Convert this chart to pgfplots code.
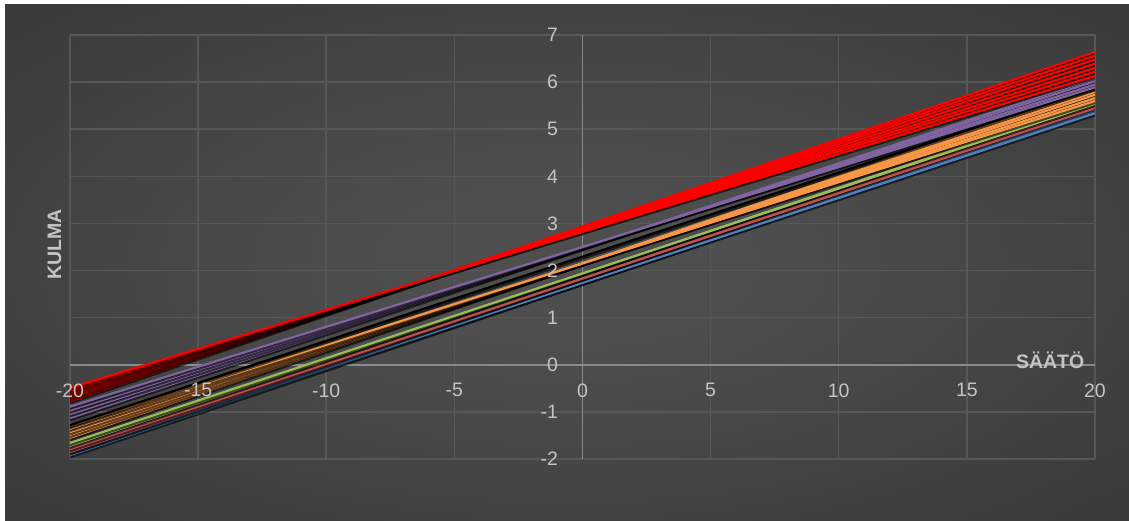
\documentclass[border=0pt]{standalone}
\usepackage{pgfplots}
\pgfplotsset{compat=1.18}
\usepackage{fontspec}
\setmainfont{Liberation Sans}
\definecolor{cred}{HTML}{FF0000}
\definecolor{cpurple}{HTML}{8064A2}
\definecolor{corange}{HTML}{F79646}
\definecolor{cgreen}{HTML}{9BBB59}
\definecolor{cmred}{HTML}{C0504D}
\definecolor{cblue}{HTML}{4F81BD}
\definecolor{bgin}{HTML}{4E4E4E}
\definecolor{bgout}{HTML}{262626}
\definecolor{gridcol}{HTML}{575757}
\definecolor{axiscol}{HTML}{8A8A8A}
\definecolor{labcol}{HTML}{C4C4C4}
\pgfdeclareradialshading{bgshade}{\pgfpointorigin}{color(0bp)=(bgin); color(8bp)=(bgin); color(62bp)=(bgout); color(80bp)=(bgout)}
\pgfplotsset{
  chartframe/.style={
    at={(70pt,61pt)}, anchor=south west,
    width=1025pt, height=424pt, scale only axis,
    xmin=-20, xmax=20, ymin=-2, ymax=7,
    xtick={-20,-15,...,20}, ytick={-2,-1,...,7},
    axis line style={draw=none},
    tick style={draw=none},
  }
}
\begin{document}
\begin{tikzpicture}
\fill[white] (0pt,0pt) rectangle (1129pt,520pt);
\shade[shading=bgshade] (5pt,0pt) rectangle (1129pt,515pt);
\begin{axis}[
  chartframe,
  grid=major,
  major grid style={draw=gridcol, line width=1.5pt},
  xticklabels={}, yticklabels={},
  extra x ticks={0}, extra y ticks={0},
  extra x tick labels={}, extra y tick labels={},
  extra tick style={major grid style={draw=axiscol, line width=1.5pt}},
  every axis plot/.append style={line width=2.2pt, preaction={draw=black, opacity=0.6, line width=2.8pt, transform canvas={yshift=-1.8pt}}},
]
% blue
\addplot[cblue] coordinates {(-20,-1.92) (20,5.40)};
\addplot[cblue] coordinates {(-20,-1.86) (20,5.34)};
% muted red
\addplot[cmred] coordinates {(-20,-1.85) (20,5.51)};
\addplot[cmred] coordinates {(-20,-1.79) (20,5.45)};
% green
\addplot[cgreen] coordinates {(-20,-1.72) (20,5.58)};
\addplot[cgreen] coordinates {(-20,-1.66) (20,5.54)};
% orange
\addplot[corange] coordinates {(-20,-1.55) (20,5.85)};
\addplot[corange] coordinates {(-20,-1.49) (20,5.79)};
\addplot[corange] coordinates {(-20,-1.43) (20,5.73)};
\addplot[corange] coordinates {(-20,-1.36) (20,5.66)};
\addplot[corange] coordinates {(-20,-1.30) (20,5.60)};
% black
\addplot[black] coordinates {(-20,-1.28) (20,5.87)};
% purple
\addplot[cpurple] coordinates {(-20,-1.13) (20,6.08)};
\addplot[cpurple] coordinates {(-20,-1.05) (20,6.02)};
\addplot[cpurple] coordinates {(-20,-0.97) (20,5.95)};
\addplot[cpurple] coordinates {(-20,-0.89) (20,5.89)};
% red
\addplot[cred] coordinates {(-20,-0.77) (20,6.64)};
\addplot[cred] coordinates {(-20,-0.72) (20,6.56)};
\addplot[cred] coordinates {(-20,-0.68) (20,6.48)};
\addplot[cred] coordinates {(-20,-0.63) (20,6.39)};
\addplot[cred] coordinates {(-20,-0.58) (20,6.30)};
\addplot[cred] coordinates {(-20,-0.54) (20,6.22)};
\addplot[cred] coordinates {(-20,-0.49) (20,6.13)};
\end{axis}
\begin{axis}[
  chartframe,
  /pgf/number format/assume math mode=true,
  ticklabel style={font=\fontsize{19.5}{22}\selectfont, text=labcol},
  x tick label style={yshift=79pt},
  y tick label style={xshift=491.5pt},
  xlabel={SÄÄTÖ}, ylabel={KULMA},
  x label style={at={(axis cs:18.25,-0.07)}, anchor=base, font=\bfseries\fontsize{19.5}{22}\selectfont, text=labcol},
  y label style={at={(axis cs:-20.6,2.55)}, anchor=center, rotate=0, font=\bfseries\fontsize{19.5}{22}\selectfont, text=labcol},
]
\end{axis}
\end{tikzpicture}
\end{document}
